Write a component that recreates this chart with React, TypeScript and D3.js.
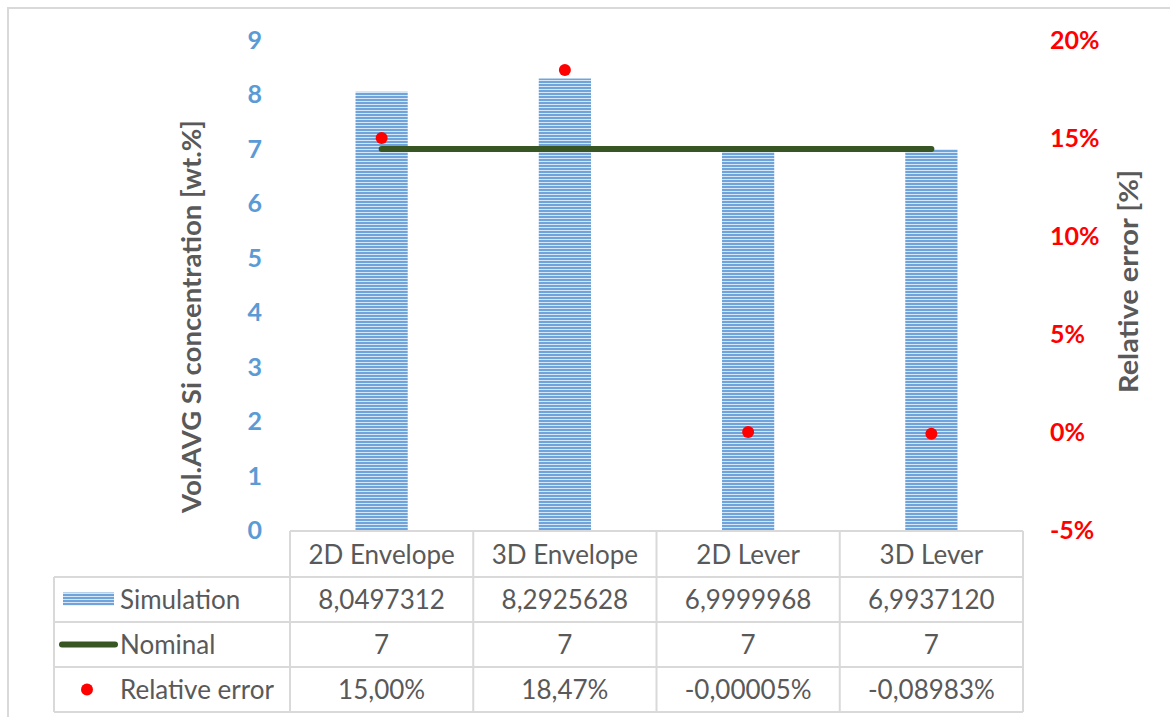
import React from "react";
import * as d3 from "d3";

const categories = ["2D Envelope", "3D Envelope", "2D Lever", "3D Lever"];
const simulation = [8.0497312, 8.2925628, 6.9999968, 6.993712];
const nominal = [7, 7, 7, 7];
const relErr = [15.0, 18.47, -0.00005, -0.08983];
const simLabels = ["8,0497312", "8,2925628", "6,9999968", "6,9937120"];
const nomLabels = ["7", "7", "7", "7"];
const errLabels = ["15,00%", "18,47%", "-0,00005%", "-0,08983%"];
const leftTicks = [0, 1, 2, 3, 4, 5, 6, 7, 8, 9];
const rightTicks = [-5, 0, 5, 10, 15, 20];

const W = 1170;
const H = 717;
const FONT = "Lato, 'Open Sans', sans-serif";
const GRAY = "#595959";
const BORDER = "#d9d9d9";

export default function App() {
  const plotLeft = 290;
  const plotRight = 1023;
  const plotTop = 40;
  const plotBottom = 530;
  const x = d3.scaleBand<string>().domain(categories).range([plotLeft, plotRight]).padding(0);
  const yL = d3.scaleLinear().domain([0, 9]).range([plotBottom, plotTop]);
  const yR = d3.scaleLinear().domain([-5, 20]).range([plotBottom, plotTop]);
  const barW = x.bandwidth() * 0.285;
  const cx = (c: string) => (x(c) as number) + x.bandwidth() / 2;

  const line = d3
    .line<number>()
    .x((_, i) => cx(categories[i]))
    .y((d) => yL(d));

  const tableTop = 531;
  const rowH = 45;
  const tableLeft = 54;
  const rows = [
    { key: "Simulation", labels: simLabels },
    { key: "Nominal", labels: nomLabels },
    { key: "Relative error", labels: errLabels },
  ];
  const TS = 26;

  return (
    <svg
      width={W}
      height={H}
      style={{ position: "absolute", left: 0, top: 0, background: "#fff" }}
      fontFamily={FONT}
    >
      <defs>
        <pattern id="stripes" width="6" height="3" patternUnits="userSpaceOnUse">
          <rect width="6" height="3" fill="#d6e6f6" />
          <rect width="6" height="2" fill="#6fa4da" />
        </pattern>
      </defs>
      <rect x={8} y={8} width={1300} height={900} fill="#fff" stroke={BORDER} strokeWidth={2} />

      {/* bars */}
      {categories.map((c, i) => (
        <rect
          key={c}
          x={cx(c) - barW / 2}
          y={yL(simulation[i])}
          width={barW}
          height={yL(0) - yL(simulation[i])}
          fill="url(#stripes)"
        />
      ))}

      {/* nominal line */}
      <path d={line(nominal) || ""} fill="none" stroke="#375623" strokeWidth={6} strokeLinecap="round" />

      {/* relative error dots */}
      {categories.map((c, i) => (
        <circle key={c} cx={cx(c)} cy={yR(relErr[i])} r={6} fill="#ff0000" />
      ))}

      {/* left ticks */}
      {leftTicks.map((t) => (
        <text
          key={t}
          x={262}
          y={yL(t)}
          dy="0.36em"
          textAnchor="end"
          fill="#5b9bd5"
          fontWeight="bold"
          fontSize={25}
        >
          {t}
        </text>
      ))}
      {/* right ticks */}
      {rightTicks.map((t) => (
        <text key={t} x={1050} y={yR(t)} dy="0.36em" textAnchor="start" fill="#ff0000" fontWeight="bold" fontSize={25}>
          {t + "%"}
        </text>
      ))}

      {/* axis titles */}
      <text
        transform={`translate(201,${316.5}) rotate(-90)`}
        textAnchor="middle"
        fill={GRAY}
        fontWeight="bold"
        fontSize={27}
        textLength={393}
        lengthAdjust="spacingAndGlyphs"
      >
        Vol.AVG Si concentration [wt.%]
      </text>
      <text
        transform={`translate(1138,${281.5}) rotate(-90)`}
        textAnchor="middle"
        fill={GRAY}
        fontWeight="bold"
        fontSize={27}
        textLength={223}
        lengthAdjust="spacingAndGlyphs"
      >
        Relative error [%]
      </text>

      {/* data table */}
      <g stroke={BORDER} strokeWidth={2} fill="none">
        <line x1={plotLeft} x2={plotRight} y1={tableTop} y2={tableTop} />
        <line x1={tableLeft} x2={plotRight} y1={tableTop + rowH + 1} y2={tableTop + rowH + 1} />
        {rows.map((r, i) => (
          <line key={r.key} x1={tableLeft} x2={plotRight} y1={tableTop + rowH * (i + 2) + 1} y2={tableTop + rowH * (i + 2) + 1} />
        ))}
        <line x1={tableLeft} x2={tableLeft} y1={tableTop + rowH + 1} y2={tableTop + rowH * 4 + 1} />
        {categories.map((c) => (
          <line key={c} x1={x(c) as number} x2={x(c) as number} y1={tableTop} y2={tableTop + rowH * 4 + 1} />
        ))}
        <line x1={plotRight} x2={plotRight} y1={tableTop} y2={tableTop + rowH * 4 + 1} />
      </g>

      {categories.map((c) => (
        <text key={c} x={cx(c)} y={tableTop + rowH / 2 + 1} dy="0.36em" textAnchor="middle" fill={GRAY} fontSize={TS}>
          {c}
        </text>
      ))}

      {rows.map((r, ri) => {
        const yMid = tableTop + rowH * (ri + 1) + rowH / 2 + 1;
        return (
          <g key={r.key}>
            <text x={120} y={yMid} dy="0.36em" fill={GRAY} fontSize={TS}>
              {r.key}
            </text>
            {r.labels.map((l, i) => (
              <text key={i} x={cx(categories[i])} y={yMid} dy="0.36em" textAnchor="middle" fill={GRAY} fontSize={TS}>
                {l}
              </text>
            ))}
          </g>
        );
      })}

      {/* legend keys */}
      <rect x={63} y={tableTop + rowH + 1 + rowH / 2 - 7} width={51} height={13} fill="url(#stripes)" />
      <line
        x1={62}
        x2={115}
        y1={tableTop + rowH * 2 + 1 + rowH / 2}
        y2={tableTop + rowH * 2 + 1 + rowH / 2}
        stroke="#375623"
        strokeWidth={6}
        strokeLinecap="round"
      />
      <circle cx={87} cy={tableTop + rowH * 3 + 1 + rowH / 2} r={6} fill="#ff0000" />
    </svg>
  );
}
